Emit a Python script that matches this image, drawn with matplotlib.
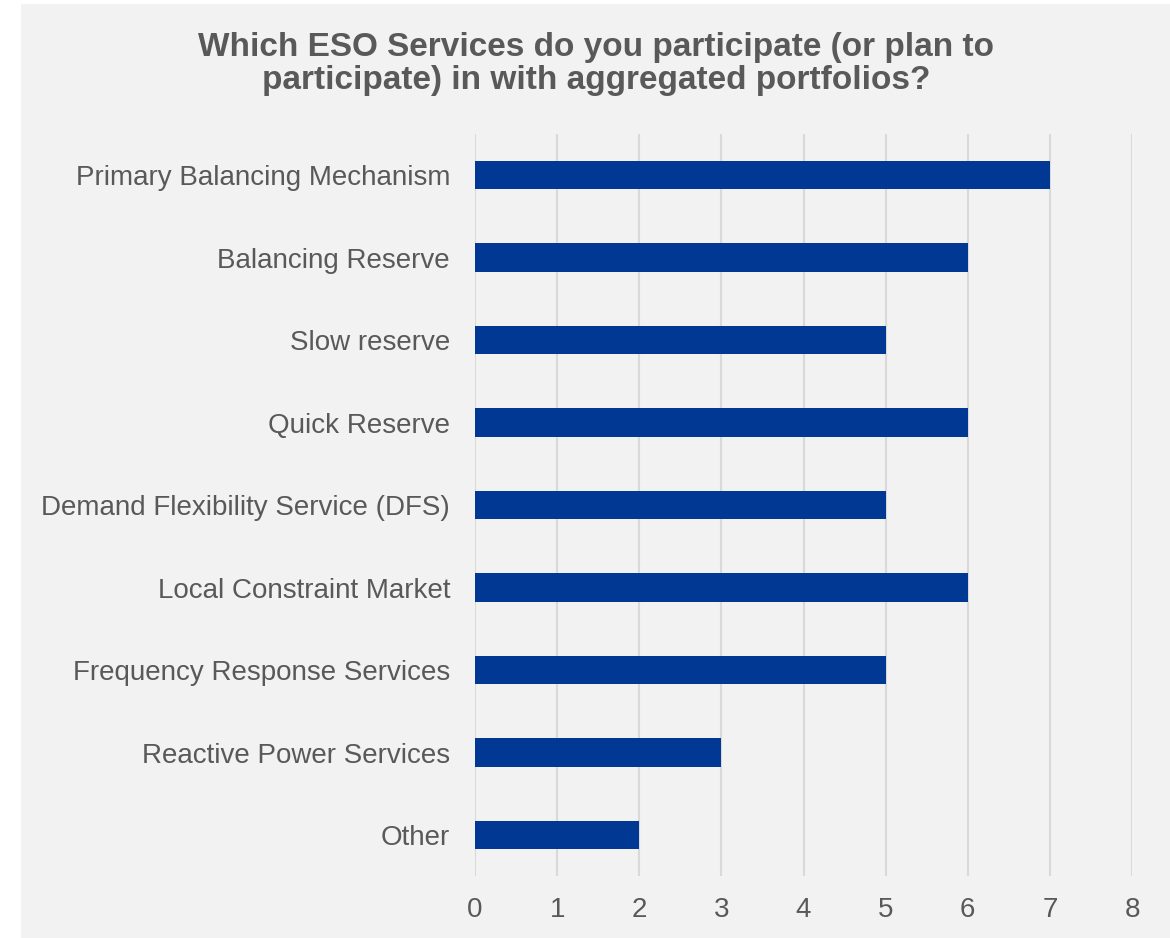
import matplotlib.pyplot as plt
from matplotlib.patches import Rectangle

plt.rcParams['font.family'] = ['Liberation Sans', 'DejaVu Sans']

# Données
services = ['Primary Balancing Mechanism', 'Balancing Reserve', 'Slow reserve',
            'Quick Reserve', 'Demand Flexibility Service (DFS)', 'Local Constraint Market',
            'Frequency Response Services', 'Reactive Power Services', 'Other']
counts = [7, 6, 5, 6, 5, 6, 5, 3, 2]
x_ticks = [0, 1, 2, 3, 4, 5, 6, 7, 8]

text_grey = '#595959'
bar_blue = '#003893'

fig = plt.figure(figsize=(11.7, 9.38), dpi=100)
fig.patch.set_facecolor('white')
fig.patches.append(Rectangle((21 / 1170, 0), 1 - 21 / 1170, 1 - 4 / 938,
                             transform=fig.transFigure, facecolor='#F2F2F2',
                             edgecolor='none', zorder=-10))

ax = fig.add_axes([475 / 1170, 1 - 876.25 / 938, 657 / 1170, 742.5 / 938])
ax.set_facecolor('none')

ax.barh(range(len(services)), counts, height=0.35, color=bar_blue, zorder=3)

ax.set_xlim(0, 8)
ax.set_ylim(len(services) - 0.5, -0.5)
ax.set_xticks(x_ticks)
ax.set_yticks(range(len(services)))
ax.set_yticklabels(services)
ax.grid(axis='x', color='#D9D9D9', linewidth=1.5, zorder=0)
ax.set_axisbelow(True)
for s in ax.spines.values():
    s.set_visible(False)
ax.tick_params(axis='both', length=0, labelsize=20, labelcolor=text_grey)
ax.tick_params(axis='y', pad=18)
ax.tick_params(axis='x', pad=15)

fig.text(596 / 1170, 1 - 64 / 938,
         'Which ESO Services do you participate (or plan to\nparticipate) in with aggregated portfolios?',
         ha='center', va='center', fontsize=24, fontweight='bold', color=text_grey,
         linespacing=1.05)

plt.savefig('out.png', dpi=100)
